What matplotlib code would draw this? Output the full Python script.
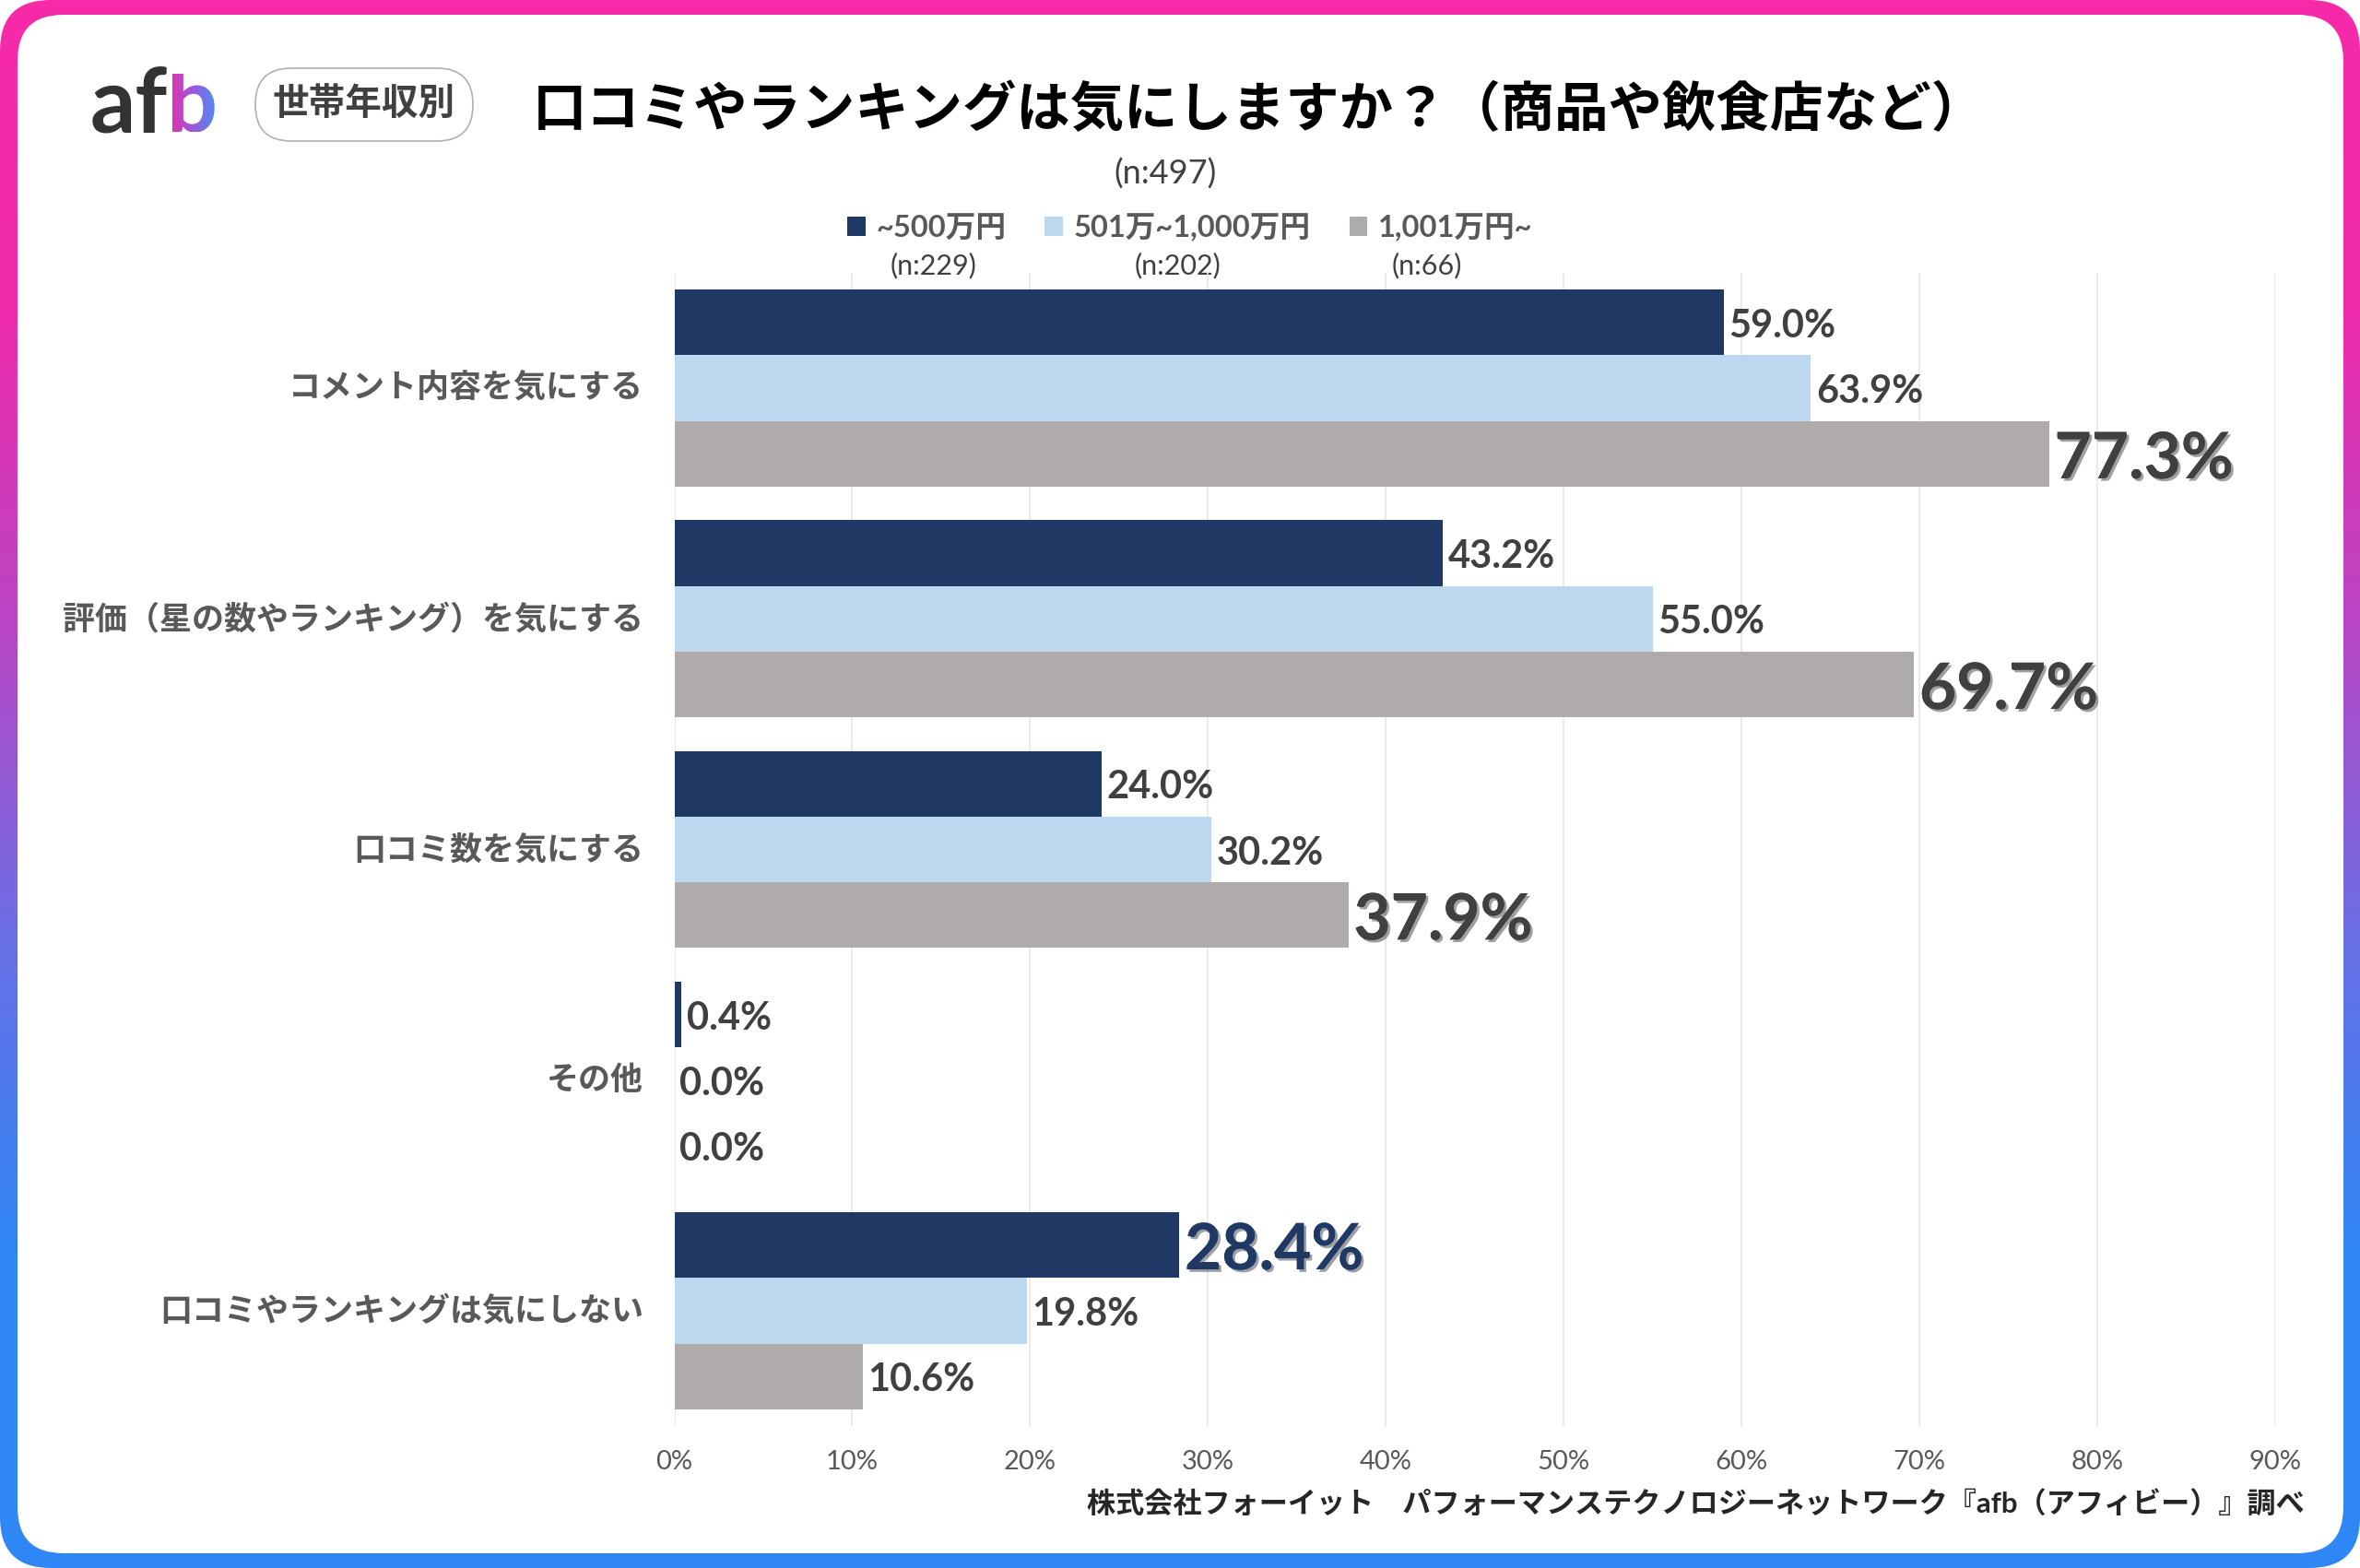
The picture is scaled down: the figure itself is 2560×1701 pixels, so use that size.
import numpy as np
import matplotlib
matplotlib.use('Agg')
import matplotlib.pyplot as plt
import matplotlib.patheffects as pe
from matplotlib.colors import LinearSegmentedColormap
from matplotlib.font_manager import FontProperties
from matplotlib.patches import FancyBboxPatch, PathPatch
from matplotlib.textpath import TextPath
from matplotlib.transforms import Affine2D, ScaledTranslation

plt.rcParams['font.family'] = ['Lato', 'Noto Sans CJK JP', 'DejaVu Sans']

categories = ['コメント内容を気にする', '評価（星の数やランキング）を気にする', '口コミ数を気にする',
              'その他', '口コミやランキングは気にしない']
series_names = ['~500万円', '501万~1,000万円', '1,001万円~']
series_n = ['(n:229)', '(n:202)', '(n:66)']
low_income = [59.0, 43.2, 24.0, 0.4, 28.4]
mid_income = [63.9, 55.0, 30.2, 0.0, 19.8]
high_income = [77.3, 69.7, 37.9, 0.0, 10.6]
x_ticks = [0, 10, 20, 30, 40, 50, 60, 70, 80, 90]

W, H = 2560, 1701
NAVY = '#1F3864'
LIGHT = '#BDD7EE'
GRAY = '#AFABAB'
colors = [NAVY, LIGHT, GRAY]
border_cmap = LinearSegmentedColormap.from_list(
    'border', ['#F72AA8', '#EE2CAC', '#B846C4', '#6A70E6', '#2F86F5', '#2F86F5'])
logo_cmap = LinearSegmentedColormap.from_list('logo', ['#E82FA8', '#A055D8', '#4F8CF5'])

fig = plt.figure(figsize=(W / 100, H / 100), dpi=100, facecolor='white')

# fond en pixels : bord degrade, carte blanche, logo, titre
bg = fig.add_axes([0, 0, 1, 1], zorder=0)
bg.set_xlim(0, W)
bg.set_ylim(H, 0)
bg.axis('off')

grad = np.linspace(0, 1, 256).reshape(-1, 1)
im = bg.imshow(grad, cmap=border_cmap, extent=[0, W, H, 0], aspect='auto', zorder=1)
outer = FancyBboxPatch((0, 0), W, H, boxstyle='round,pad=0,rounding_size=55',
                       fc='none', ec='none', transform=bg.transData)
bg.add_patch(outer)
im.set_clip_path(outer)
bg.add_patch(FancyBboxPatch((19, 16), W - 37, H - 32, boxstyle='round,pad=0,rounding_size=50',
                            fc='white', ec='none', zorder=2))

bg.text(98, 143, 'af', fontsize=70, fontweight='bold', color='#333333', zorder=3, va='baseline')
b_path = TextPath((0, 0), 'b', size=97, prop=FontProperties(family='Lato', weight='bold'))
b_path = b_path.transformed(Affine2D().scale(1, -1).translate(181, 143))
b_patch = PathPatch(b_path, fc='none', ec='none', transform=bg.transData)
bg.add_patch(b_patch)
logo_im = bg.imshow(np.linspace(0, 1, 64).reshape(1, -1), cmap=logo_cmap,
                    extent=[181, 234, 143, 80], aspect='auto', zorder=3)
logo_im.set_clip_path(b_patch)
bg.set_xlim(0, W)
bg.set_ylim(H, 0)

bg.add_patch(FancyBboxPatch((277, 74), 236, 79, boxstyle='round,pad=0,rounding_size=39',
                            fc='white', ec='#B0B0B0', lw=1.2, zorder=3))
bg.text(395, 113, '世帯年収別', fontsize=28.5, fontweight='bold', color='#404040',
        ha='center', va='center', zorder=4)
bg.text(578, 119, '口コミやランキングは気にしますか？（商品や飲食店など）', fontsize=42,
        fontweight='bold', color='#000000', ha='left', va='center', zorder=4)
bg.text(1264, 189, '(n:497)', fontsize=26, color='#404040', ha='center', va='center', zorder=4)
for label, x in zip(series_n, [1013, 1277, 1548]):
    bg.text(x, 288, label, fontsize=22, color='#404040', ha='center', va='center', zorder=4)
bg.text(2500, 1631, '株式会社フォーイット　パフォーマンステクノロジーネットワーク『afb（アフィビー）』調べ',
        fontsize=22.4, fontweight='bold', color='#262626', ha='right', va='center', zorder=4)

# graphique
left, right, top, bottom = 731.5, 2468, 296, 1547
ax = fig.add_axes([left / W, 1 - bottom / H, (right - left) / W, (bottom - top) / H], zorder=1)
ax.patch.set_alpha(0)

bar_h = 0.285
y = np.arange(len(categories))
all_values = [low_income, mid_income, high_income]
bars = []
for j, values in enumerate(all_values):
    bars.append(ax.barh(y + (j - 1) * bar_h, values, height=bar_h, color=colors[j],
                        label=series_names[j], zorder=3))

# la valeur la plus haute de chaque groupe est mise en avant (sauf "その他")
for i in range(len(categories)):
    group = [v[i] for v in all_values]
    for j, v in enumerate(group):
        big = categories[i] != 'その他' and v == max(group)
        txt = ax.annotate(f'{v:.1f}%', (v, y[i] + (j - 1) * bar_h),
                          xytext=(4, -5 if big else -3), textcoords='offset points',
                          va='center', ha='left', fontsize=50 if big else 30, fontweight='bold',
                          color=NAVY if big and j == 0 else '#404040', zorder=5)
        if big:
            txt.set_path_effects([pe.withSimplePatchShadow(offset=(2, -2), alpha=0.4), pe.Normal()])

ax.set_xlim(0, 90)
ax.set_ylim(len(categories) - 0.5, -0.5)
ax.set_xticks(x_ticks)
ax.set_xticklabels([f'{t}%' for t in x_ticks], fontsize=21, color='#595959')
ax.set_yticks(y)
ax.set_yticklabels(categories, fontsize=25.2, fontweight='bold', color='#595959')
ax.tick_params(axis='x', length=0, pad=19)
ax.tick_params(axis='y', length=0, pad=24)
# les libelles CJK tombent un peu bas
for lbl in ax.get_yticklabels():
    lbl.set_transform(lbl.get_transform() + ScaledTranslation(0, 3 / 100, fig.dpi_scale_trans))
ax.grid(axis='x', color='#E6E6E6', lw=1.2, zorder=0)
ax.set_axisbelow(True)
for name, spine in ax.spines.items():
    spine.set_visible(False)

ax.legend(loc='center left', bbox_to_anchor=(919 / W, 1 - 247 / H),
          bbox_transform=fig.transFigure, ncol=3, frameon=False,
          prop={'family': ['Lato', 'Noto Sans CJK JP'], 'size': 23.5, 'weight': 'bold'},
          labelcolor='#595959', handlelength=0.6, handleheight=0.6, handletextpad=0.35,
          columnspacing=1.3, borderpad=0, borderaxespad=0)

fig.savefig('out.png', dpi=100)
